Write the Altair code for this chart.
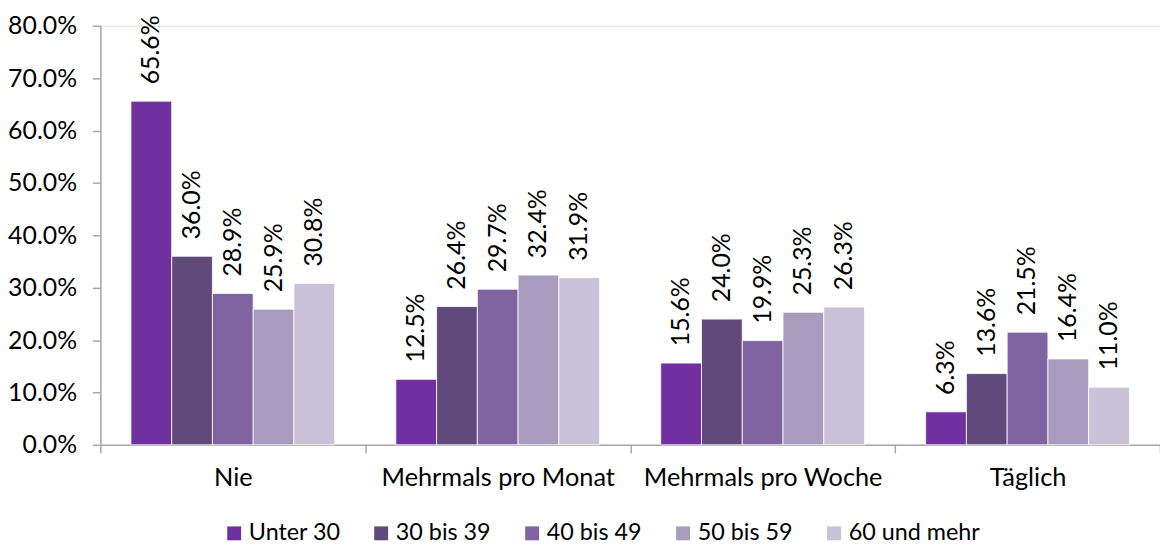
import altair as alt
import pandas as pd

categories = ["Nie", "Mehrmals pro Monat", "Mehrmals pro Woche", "Täglich"]
groups = ["Unter 30", "30 bis 39", "40 bis 49", "50 bis 59", "60 und mehr"]
colors = ["#7030A0", "#604A7B", "#8064A2", "#A99BBD", "#C8C1D7"]

unter30 = [65.6, 12.5, 15.6, 6.3]
bis39 = [36.0, 26.4, 24.0, 13.6]
bis49 = [28.9, 29.7, 19.9, 21.5]
bis59 = [25.9, 32.4, 25.3, 16.4]
ab60 = [30.8, 31.9, 26.3, 11.0]

series = [unter30, bis39, bis49, bis59, ab60]
rows = []
for g, vals in zip(groups, series):
    for c, v in zip(categories, vals):
        rows.append({"cat": c, "grp": g, "val": v / 100.0})
df = pd.DataFrame(rows)

FONT = "Lato"
AXIS_GRAY = "#A6A6A6"

x = alt.X("cat:N", sort=categories, title=None,
          scale=alt.Scale(paddingInner=0, paddingOuter=0),
          axis=alt.Axis(labelAngle=0, tickBand="extent", tickSize=8,
                        domainColor=AXIS_GRAY, tickColor=AXIS_GRAY,
                        labelFont=FONT, labelFontSize=25.5, labelColor="#000000",
                        labelLimit=0, labelPadding=13, domainWidth=1.5, tickWidth=1.5))
xo = alt.XOffset("grp:N", sort=groups,
                 scale=alt.Scale(paddingInner=0, paddingOuter=0.75))
y = alt.Y("val:Q", title=None,
          scale=alt.Scale(domain=[0, 0.8]),
          axis=alt.Axis(values=[0, 0.1, 0.2, 0.3, 0.4, 0.5, 0.6, 0.7, 0.8],
                        format=".1%", grid=False, tickSize=8,
                        domainColor=AXIS_GRAY, tickColor=AXIS_GRAY,
                        labelFont=FONT, labelFontSize=25, labelColor="#000000",
                        labelPadding=16, domainWidth=1.5, tickWidth=1.5))
color = alt.Color("grp:N", sort=groups, title=None,
                  scale=alt.Scale(domain=groups, range=colors),
                  legend=alt.Legend(orient="none", direction="horizontal",
                                    legendX=123, legendY=499,
                                    symbolType="square", symbolSize=196,
                                    symbolStrokeWidth=0, labelFont=FONT,
                                    labelFontSize=23.5, labelColor="#000000",
                                    labelLimit=0, labelOffset=3, columnPadding=29))

bars = alt.Chart(df).mark_bar(stroke="white", strokeWidth=0.8).encode(
    x=x, xOffset=xo, y=y, color=color
)
labels = alt.Chart(df).mark_text(angle=270, align="left", baseline="middle",
                                 dx=17, font=FONT, fontSize=25,
                                 color="#000000").encode(
    x=alt.X("cat:N", sort=categories), xOffset=alt.XOffset("grp:N", sort=groups),
    y="val:Q", text=alt.Text("val:Q", format=".1%")
)

chart = alt.layer(bars, labels).properties(
    width=1067, height=422,
    autosize=alt.AutoSizeParams(type="none"),
    padding={"left": 93, "top": 16, "right": 0, "bottom": 99},
).configure_view(stroke=None).configure(background="white")

chart.save("out.html", embed_options={"renderer": "svg", "actions": False})
